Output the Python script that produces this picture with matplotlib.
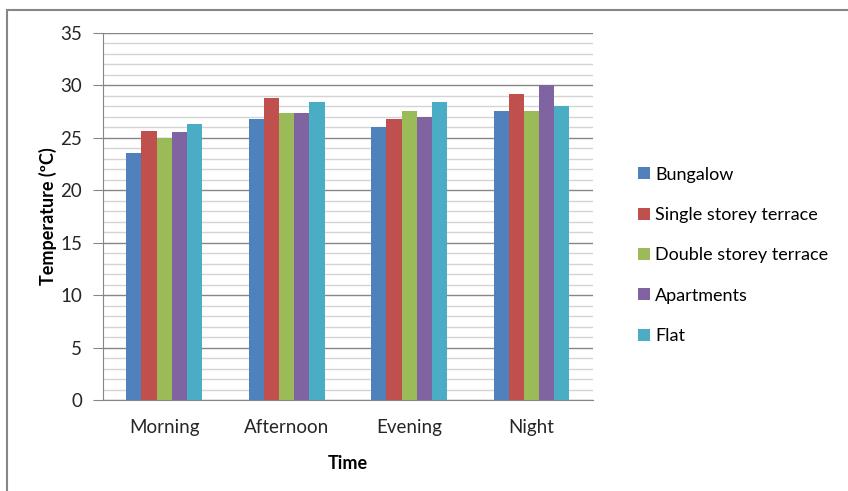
import numpy as np
import matplotlib.pyplot as plt
from matplotlib.patches import Rectangle
from matplotlib.ticker import MultipleLocator

plt.rcParams['font.family'] = ['Lato', 'DejaVu Sans']

# Data
times = ['Morning', 'Afternoon', 'Evening', 'Night']
bungalow = [23.6, 26.8, 26.0, 27.6]
single_terrace = [25.7, 28.8, 26.8, 29.2]
double_terrace = [25.0, 27.4, 27.6, 27.6]
apartments = [25.6, 27.4, 27.0, 30.0]
flat = [26.3, 28.4, 28.4, 28.0]

series = [
    ('Bungalow', bungalow, '#4F81BD'),
    ('Single storey terrace', single_terrace, '#C0504D'),
    ('Double storey terrace', double_terrace, '#9BBB59'),
    ('Apartments', apartments, '#8064A2'),
    ('Flat', flat, '#4BACC6'),
]

fig = plt.figure(figsize=(8.48, 4.91), dpi=100)
ax = fig.add_axes([0.1215, 0.1853, 0.5775, 0.7475])

# chart border (left and top visible)
fig.add_artist(Rectangle((7 / 848, -0.1), 1.2, 0.1 + (491 - 10) / 491,
                         transform=fig.transFigure, fill=False,
                         edgecolor='#868686', linewidth=1.5))

x = np.arange(len(times))
bw = 0.124
for i, (name, vals, col) in enumerate(series):
    ax.bar(x + (i - 2) * bw, vals, bw, color=col, label=name, zorder=3)

ax.set_xlim(-0.5, 3.5)
ax.set_ylim(0, 35)
ax.yaxis.set_major_locator(MultipleLocator(5))
ax.yaxis.set_minor_locator(MultipleLocator(1))
ax.grid(axis='y', which='minor', color='#D4D4D4', linewidth=1, zorder=0)
ax.grid(axis='y', which='major', color='#868686', linewidth=1, zorder=1)

for s in ['top', 'right']:
    ax.spines[s].set_visible(False)
ax.spines['left'].set_color('#868686')
ax.spines['bottom'].set_color('#868686')

ax.set_xticks(x)
ax.set_xticklabels(times)
ax.tick_params(axis='x', length=0, pad=14, labelsize=13.5, colors='#262626')
ax.tick_params(axis='y', which='major', length=7, color='#868686', pad=8,
               labelsize=13.5, labelcolor='#262626')
ax.tick_params(axis='y', which='minor', length=0)

ax.set_ylabel('Temperature (ºC)', fontsize=13, fontweight='bold', labelpad=2)
ax.set_xlabel('Time', fontsize=13, fontweight='bold', labelpad=13)

ax.legend(loc='center left', bbox_to_anchor=(0.733, 0.48), bbox_transform=fig.transFigure,
          frameon=False, fontsize=13, handlelength=0.65, handleheight=0.65,
          handletextpad=0.3, labelspacing=1.35)

plt.savefig('out.png', dpi=100)
